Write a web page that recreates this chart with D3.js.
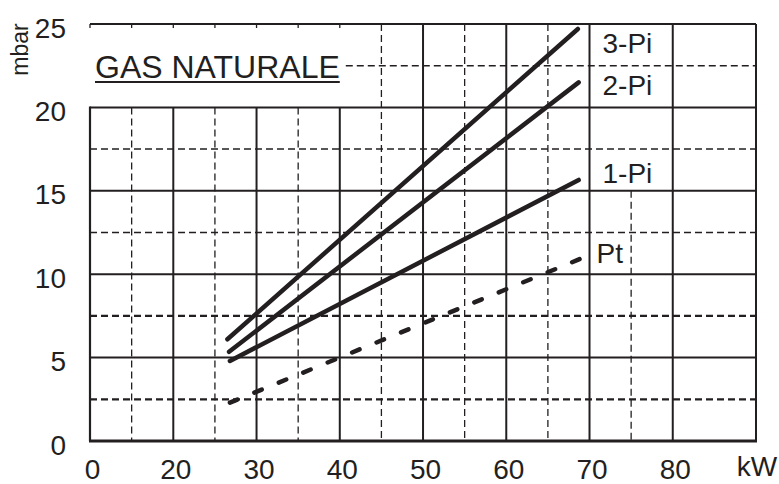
<!DOCTYPE html>
<html><head><meta charset="utf-8">
<script src="https://cdn.jsdelivr.net/npm/d3@7"></script>
<style>
html,body{margin:0;padding:0;background:#fff;}
svg{display:block;font-family:"Liberation Sans",Arial,Helvetica,sans-serif;}
</style></head><body>
<svg id="c" width="779" height="484"></svg>
<script>
// ---- data ----
const xTicks = [0, 20, 30, 40, 50, 60, 70, 80];
const yTicks = [0, 5, 10, 15, 20, 25];
const xMajorGrid = [20, 30, 40, 50, 60, 70, 80, 90];
const xMinorGrid = [10, 25, 35, 45, 55, 65, 75];
const yMajorGrid = [5, 10, 15, 20];
const yMinorGrid = [2.5, 7.5, 12.5, 17.5, 22.5];
const seriesNames = ["3-Pi", "2-Pi", "1-Pi", "Pt"];
const kW_3Pi = [26.5, 68.6];   const mbar_3Pi = [6.1, 24.7];
const kW_2Pi = [26.7, 68.7];   const mbar_2Pi = [5.35, 21.5];
const kW_1Pi = [26.8, 68.7];   const mbar_1Pi = [4.8, 15.65];
const kW_Pt  = [26.8, 68.8];   const mbar_Pt  = [2.3, 10.9];
const title = "GAS NATURALE";
const xUnit = "kW", yUnit = "mbar";

// ---- layout ----
const ink = "#231f20";
const svg = d3.select("#c");
const x = d3.scaleLinear().domain([0, 20, 90]).range([90, 173.3, 756]);
const y = d3.scaleLinear().domain([0, 25]).range([441, 24]);

const grid = svg.append("g");
xMinorGrid.forEach(v => {
  const top = v < 45 ? 20 : (v === 75 ? 15 : 25);
  grid.append("line").attr("x1", x(v)).attr("x2", x(v)).attr("y1", y(top)).attr("y2", y(0))
    .attr("stroke", ink).attr("stroke-width", 1.3).attr("stroke-dasharray", "7,4");
});
yMinorGrid.forEach(v => {
  const x1 = v > 20 ? x(40) + 6 : x(0);
  grid.append("line").attr("x1", x1).attr("x2", x(90)).attr("y1", y(v)).attr("y2", y(v))
    .attr("stroke", ink).attr("stroke-width", v < 10 ? 2.2 : 1.5).attr("stroke-dasharray", "7,4");
});
xMajorGrid.forEach(v => {
  const top = v < 45 ? 20 : 25;
  grid.append("line").attr("x1", x(v)).attr("x2", x(v)).attr("y1", y(top)).attr("y2", y(0))
    .attr("stroke", ink).attr("stroke-width", 2);
});
grid.append("line").attr("x1", x(0)).attr("x2", x(0)).attr("y1", y(20) - 1).attr("y2", y(0))
  .attr("stroke", ink).attr("stroke-width", 2.2);
yMajorGrid.forEach(v => {
  grid.append("line").attr("x1", x(0)).attr("x2", x(90)).attr("y1", y(v)).attr("y2", y(v))
    .attr("stroke", ink).attr("stroke-width", 2);
});
grid.append("line").attr("x1", x(0)).attr("x2", x(90)).attr("y1", y(25)).attr("y2", y(25))
  .attr("stroke", ink).attr("stroke-width", 2.2);
grid.append("line").attr("x1", x(0) - 1).attr("x2", x(90) + 1).attr("y1", y(0)).attr("y2", y(0))
  .attr("stroke", ink).attr("stroke-width", 2.8);
[0, 10, 20, 25, 30, 35, 40].forEach(v => {
  grid.append("line").attr("x1", x(v)).attr("x2", x(v)).attr("y1", y(25)).attr("y2", y(25) + 4)
    .attr("stroke", ink).attr("stroke-width", 1.3);
});

// ---- series ----
const series = [
  {name: seriesNames[0], kw: kW_3Pi, mb: mbar_3Pi, dashed: false, ly: 23.25, lx: 13},
  {name: seriesNames[1], kw: kW_2Pi, mb: mbar_2Pi, dashed: false, ly: 20.75, lx: 13},
  {name: seriesNames[2], kw: kW_1Pi, mb: mbar_1Pi, dashed: false, ly: 15.45, lx: 13},
  {name: seriesNames[3], kw: kW_Pt,  mb: mbar_Pt,  dashed: true,  ly: 10.65, lx: 7}
];
const line = d3.line().x(d => x(d[0])).y(d => y(d[1]));
series.forEach(s => {
  const pts = s.kw.map((k, i) => [k, s.mb[i]]);
  const p = svg.append("path").attr("d", line(pts)).attr("fill", "none").attr("stroke", ink)
    .attr("stroke-width", 4.5).attr("stroke-linecap", "round");
  if (s.dashed) {
    const L = p.node().getTotalLength();
    const dash = 8;
    const n = Math.max(1, Math.round((L - dash) / 27));
    const period = (L - dash) / n;
    p.attr("stroke-dasharray", dash + "," + (period - dash));
  }
  svg.append("text").attr("x", x(70) + s.lx).attr("y", y(s.ly)).attr("fill", ink)
    .attr("font-size", 28).text(s.name);
});

// ---- axes ----
const xa = svg.append("g").attr("transform", "translate(2,479)")
  .call(d3.axisBottom(x).tickValues(xTicks).tickSize(0).tickPadding(0).tickFormat(d3.format("d")));
xa.select(".domain").remove();
xa.selectAll("text").attr("y", 0).attr("dy", 0).attr("font-size", 28).attr("fill", ink)
  .attr("font-family", "Liberation Sans, Arial, sans-serif");

const ya = svg.append("g").attr("transform", "translate(66,0)")
  .call(d3.axisLeft(y).tickValues(yTicks).tickSize(0).tickPadding(0));
ya.select(".domain").remove();
ya.selectAll("text").attr("x", 0).attr("dy", "0.47em").attr("font-size", 28).attr("fill", ink)
  .attr("font-family", "Liberation Sans, Arial, sans-serif");

svg.append("text").attr("x", 757).attr("y", 476).attr("text-anchor", "middle")
  .attr("font-size", 28).attr("fill", ink).text(xUnit);
svg.append("text").attr("transform", "translate(28,49.5) rotate(-90)").attr("text-anchor", "middle")
  .attr("font-size", 23).attr("fill", ink).text(yUnit);

const t = svg.append("text").attr("x", 95).attr("y", 78).attr("font-size", 32).attr("fill", ink).text(title);
const tw = t.node().getComputedTextLength();
svg.append("line").attr("x1", 95).attr("x2", 95 + tw).attr("y1", 82).attr("y2", 82)
  .attr("stroke", ink).attr("stroke-width", 2);
</script>
</body></html>
